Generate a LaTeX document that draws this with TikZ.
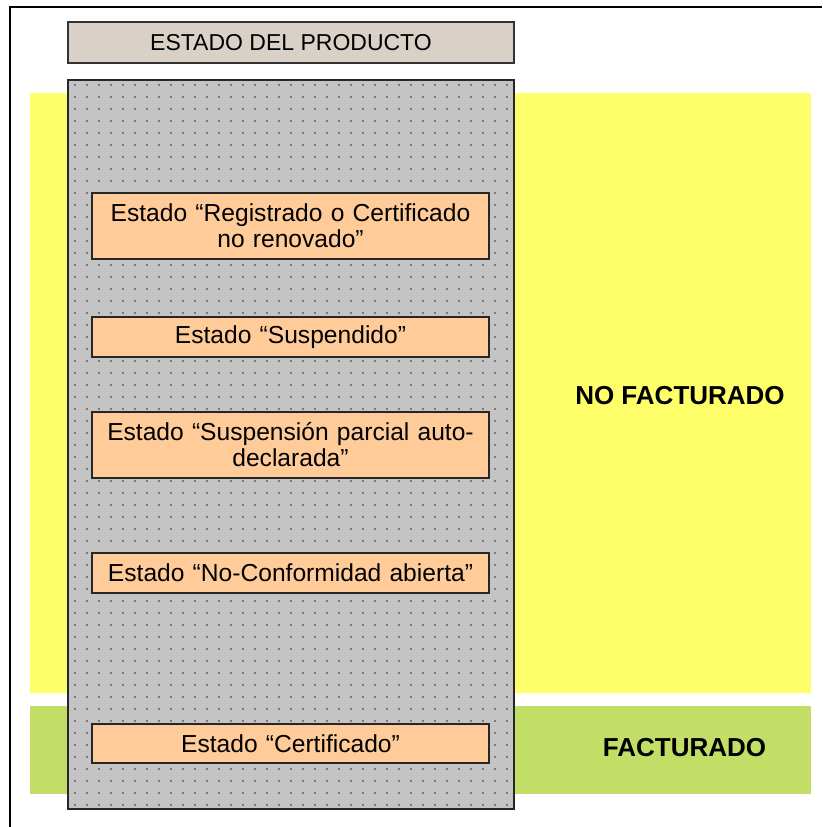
\documentclass[tikz,border=0pt]{standalone}
\usepackage{fontspec}
\setmainfont{Liberation Sans}
\usepackage{xcolor}
\usetikzlibrary{positioning}

\definecolor{bandyellow}{HTML}{FFFF6A}
\definecolor{bandgreen}{HTML}{C2DE66}
\definecolor{colgray}{HTML}{C4C4C4}
\definecolor{dotgray}{HTML}{7A7A7A}
\definecolor{titlefill}{HTML}{D9D1C8}
\definecolor{statefill}{HTML}{FFCC99}

\tikzset{
  statebox/.style={draw=black!85, line width=1.4pt, fill=statefill, inner sep=0pt,
    minimum width=397pt, text width=392pt, align=center,
    font=\fontsize{24.6}{26}\selectfont},
  titlebox/.style={draw=black!80, line width=1.4pt, fill=titlefill, inner sep=0pt,
    minimum width=446pt, minimum height=41pt, font=\fontsize{23}{26}\selectfont},
  bandlabel/.style={font=\fontsize{26}{28}\selectfont\bfseries}
}

\begin{document}
\begin{tikzpicture}[x=1pt,y=-1pt]
  \useasboundingbox (0,0) rectangle (822,827);

  % Frame of the page
  \draw [line width=2pt] (822,6.5) -- (9.5,6.5) -- (9.5,827);%

  % Bands behind the column
  \fill [bandyellow] (30,93) rectangle (811,693);%
  \fill [bandgreen] (30,706) rectangle (811,794);%

  % Column of product states
  \fill [colgray] (68,80) rectangle (514,809);%
  \foreach \i in {0,...,36}
    \foreach \j in {0,...,60}
      \fill [dotgray] (73.5+\i*12,85.5+\j*12) rectangle +(2,-2);%
  \draw [line width=1.4pt, black!85] (68,80) rectangle (514,809);%

  % Title
  \node [titlebox] (title) at (291,42.5) {ESTADO DEL PRODUCTO};%

  % States
  \node [statebox, minimum height=66pt] (registrado) at (290.5,226)
    {Estado “Registrado o Certificado\\no renovado”};%
  \node [statebox, minimum height=40pt] (suspendido) at (290.5,337)
    {Estado “Suspendido”};%
  \node [statebox, minimum height=66pt] (parcial) at (290.5,445)
    {Estado “Suspensión parcial auto-\\declarada”};%
  \node [statebox, minimum height=40pt] (noconf) at (290.5,573)
    {Estado “No-Conformidad abierta”};%
  \node [statebox, minimum height=39pt] (certificado) at (290.5,743.5)
    {Estado “Certificado”};%

  % Band labels
  \node [bandlabel] (nofact) at (680,396) {NO FACTURADO};%
  \node [bandlabel] (fact) at (684.5,748) {FACTURADO};%
\end{tikzpicture}
\end{document}
